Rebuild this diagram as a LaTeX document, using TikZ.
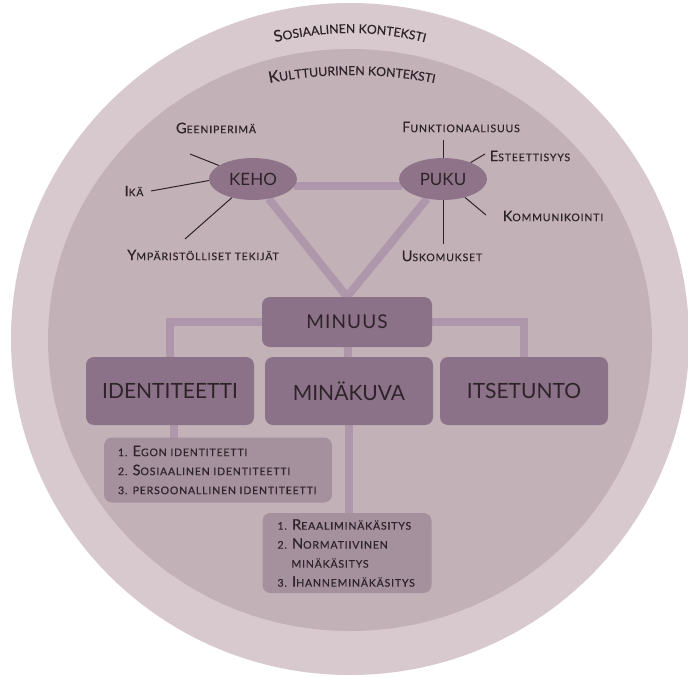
\documentclass[tikz,border=0pt]{standalone}
\usepackage{fontspec}
\setmainfont{Lato}
\usetikzlibrary{shapes.geometric,backgrounds,decorations.text}

\definecolor{outerc}{HTML}{D7C9CE}
\definecolor{innerc}{HTML}{C2B2B8}
\definecolor{boxc}{HTML}{8C7288}
\definecolor{ellc}{HTML}{8F7489}
\definecolor{subc}{HTML}{A5909E}
\definecolor{linkc}{HTML}{AE97AA}
\definecolor{txtc}{HTML}{2E2329}

% small caps by hand: capitals big, the rest uppercase and small
\newcommand\smallf{\addfontfeature{LetterSpace=8,FakeBold=0.4}\fontsize{10.5}{19}\selectfont}
\newcommand\bigcf{\fontsize{14.5}{19}\selectfont}
\newcommand\bc[1]{{\bigcf #1}}
\newcommand\arcsmall{\addfontfeature{FakeBold=0.4}\fontsize{12.3}{14}\selectfont}
\newcommand\arcbig{\addfontfeature{FakeBold=0.4}\fontsize{16}{18}\selectfont}

\tikzset{
  kbox/.style={ellipse, fill=ellc, minimum width=88, minimum height=42, inner sep=0pt,
    text=txtc, font=\fontsize{17}{20}\selectfont},
  mainbox/.style={rectangle, rounded corners=8pt, fill=boxc, minimum width=168, minimum height=68,
    text=txtc, font=\fontsize{21}{24}\selectfont},
  listbox/.style={rectangle, rounded corners=8pt, fill=subc, align=left, text=txtc,
    font=\smallf, inner ysep=4pt},
  lbl/.style={text=txtc, font=\smallf, inner sep=1pt},
  link/.style={line width=8pt, color=linkc},
  thin/.style={line width=1pt, color=txtc}
}

\begin{document}
\begin{tikzpicture}[x=1pt,y=-1pt]
      \useasboundingbox (0,0) rectangle (688,677);
      \begin{scope}[on background layer]
        \fill[white] (0,0) rectangle (688,677);
        \fill[outerc] (350,339) ellipse [x radius=339, y radius=336];
        \fill[innerc] (350,340) ellipse [x radius=302, y radius=291];
      \end{scope}

      % context texts
      \path[decorate, decoration={text along path, text align=center,
        text={|\color{txtc}\arcbig|S|\color{txtc}\arcsmall|OSIAALINEN KONTEKSTI}}]
        (350,339) ++(240:306) arc[start angle=240, end angle=300, radius=306];
      \path[decorate, decoration={text along path, text align=center,
        text={|\color{txtc}\arcbig|K|\color{txtc}\arcsmall|ULTTUURINEN KONTEKSTI}}]
        (352,494) ++(250:419) arc[start angle=250, end angle=290, radius=419];

      % keho and puku
      \node[kbox] (keho) at (253,179) {KEHO};
      \node[kbox] (puku) at (443,179) {PUKU};

      \node[lbl] (geeni) at (216,128) {\bc{G}EENIPERIMÄ};
      \node[lbl] (ika) at (134,191) {\bc{I}KÄ};
      \node[lbl] (ympa) at (203,255) {\bc{Y}MPÄRISTÖLLISET TEKIJÄT};
      \coordinate (geeniA) at (190,154);
      \coordinate (ikaA) at (151,191);
      \coordinate (ympaA) at (185,239);
      \draw[thin] (geeniA) -- (keho);
      \draw[thin] (ikaA) -- (keho.182);
      \draw[thin] (ympaA) -- (keho);

      \node[lbl] (funk) at (461,127) {\bc{F}UNKTIONAALISUUS};
      \node[lbl] (este) at (530,156) {\bc{E}STEETTISYYS};
      \node[lbl] (komm) at (553,216) {\bc{K}OMMUNIKOINTI};
      \node[lbl] (usko) at (442,256) {\bc{U}SKOMUKSET};
      \coordinate (funkA) at (443,140);
      \coordinate (esteA) at (485,154);
      \coordinate (kommA) at (486,215);
      \coordinate (uskoA) at (443,244);
      \draw[thin] (funkA) -- (puku);
      \draw[thin] (esteA) -- (puku);
      \draw[thin] (kommA) -- (puku);
      \draw[thin] (uskoA) -- (puku);

      % minuus and its parts
      \node[mainbox, minimum width=170, minimum height=50,
        font=\addfontfeature{LetterSpace=6}\fontsize{19}{22}\selectfont] (minuus) at (347,322) {MINUUS};
      \node[mainbox] (ident) at (170,391) {IDENTITEETTI};
      \node[mainbox] (minak) at (349,391) {MINÄKUVA};
      \node[mainbox] (itse) at (524,391) {ITSETUNTO};

      \node[listbox, text width=200, inner xsep=14, minimum height=65] (egon) at (218,470)
        {1. \bc{E}GON IDENTITEETTI\\2. \bc{S}OSIAALINEN IDENTITEETTI\\3. PERSOONALLINEN IDENTITEETTI};
      \node[listbox, text width=139, inner xsep=15, minimum height=80] (reaali) at (347,553)
        {1. \bc{R}EAALIMINÄKÄSITYS\\2. \bc{N}ORMATIIVINEN\\\hspace*{14pt}MINÄKÄSITYS\\3. \bc{I}HANNEMINÄKÄSITYS};

      \begin{scope}[on background layer]
        \draw[link] (keho.-10) -- (puku.190);
        \draw[link] (keho) -- (minuus.north) -- (puku);
        \draw[link] (minuus) -| (ident);
        \draw[link] (minuus) -| (itse);
        \draw[link] (minuus) -- (minak);
        \draw[link] ([xshift=4]ident.center) -- ([xshift=4]ident.center |- egon);
        \draw[link] (minak) -- (minak |- reaali);
      \end{scope}

    \end{tikzpicture}
\end{document}
